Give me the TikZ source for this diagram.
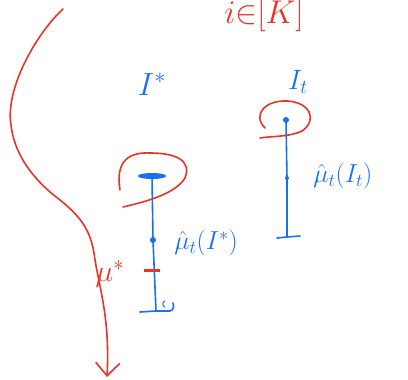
\documentclass[tikz,border=0pt]{standalone}
\usepackage{fix-cm}
\usepackage{tikz}
\usetikzlibrary{positioning, arrows.meta, shapes.geometric}
\definecolor{penred}{RGB}{232, 52, 38}
\definecolor{penblue}{RGB}{22, 112, 240}

\tikzset{
    redpen/.style={draw=penred, line width=1.6pt, line cap=round, line join=round},
    bluepen/.style={draw=penblue, line width=1.6pt, line cap=round, line join=round},
    bluedot/.style={circle, fill=penblue, inner sep=0pt, minimum size=6pt},
    redlabel/.style={text=penred, inner sep=0pt},
    bluelabel/.style={text=penblue, inner sep=0pt, font=\fontsize{26}{28}\selectfont}
}

\begin{document}
\begin{tikzpicture}[x=1pt, y=-1pt]
        \useasboundingbox (0,0) rectangle (408,380);

        \node[redlabel, font=\fontsize{33}{35}\selectfont] (title) at (264,15) {$i{\in}[K]$};

        \coordinate (curvetop) at (63,9);
        \coordinate (arrowend) at (107,377);
        \draw[redpen, -{Straight Barb[length=13pt, width=24pt, line width=1.6pt]}]
            (curvetop) .. controls (35,35) and (5,90) .. (11,125)
            .. controls (15,160) and (40,185) .. (60,200)
            .. controls (85,220) and (92,235) .. (95,260)
            .. controls (100,290) and (110,320) .. (arrowend);
        \node[redlabel, font=\fontsize{30}{32}\selectfont] (mustar) at (110,274) {$\mu^{*}$};

        \node[bluelabel, font=\fontsize{32}{34}\selectfont] (istarlabel) at (152,84) {$I^{*}$};
        \node[bluelabel, font=\fontsize{28}{30}\selectfont] (itlabel) at (298,82) {$I_t$};

        % left interval
        \node[bluedot, ellipse, minimum width=28pt, minimum height=6pt] (istar) at (152,176) {};
        \node[bluedot] (muistar) at (153,240) {};
        \coordinate (istarbot) at (156,311);
        \draw[bluepen] (istar.center) -- (muistar.center) -- (istarbot);
        \draw[bluepen] (140,312) -- (istarbot) -- (170,311) .. controls (174,310) and (174,306) .. (173,303);
        \draw[bluepen, line width=1pt] (165,301) .. controls (162,302) and (162,306) .. (165,307);
        \draw[draw=penred, line width=3pt] (144,270) -- (160,270);
        \node[bluelabel, right=18pt of muistar, yshift=-3pt] (muistarlabel) {$\hat{\mu}_t(I^{*})$};
        \draw[redpen] (120,190) .. controls (115,160) and (130,152) .. (150,153)
            .. controls (175,153) and (192,160) .. (185,178)
            .. controls (175,195) and (140,203) .. (123,207);

        % right interval
        \node[bluedot] (it) at (286,120) {};
        \node[bluedot, minimum size=4pt] (muit) at (287,178) {};
        \coordinate (itbot) at (287,237);
        \draw[bluepen] (it.center) -- (muit.center) -- (itbot);
        \draw[bluepen] (277,238) -- (itbot) -- (300,236);
        \node[bluelabel, right=24pt of muit, yshift=2pt] (muitlabel) {$\hat{\mu}_t(I_t)$};
        \draw[redpen] (265,128) .. controls (252,115) and (265,100) .. (287,101)
            .. controls (310,102) and (318,120) .. (302,131)
            .. controls (290,137) and (272,136) .. (260,138);
    \end{tikzpicture}
\end{document}
